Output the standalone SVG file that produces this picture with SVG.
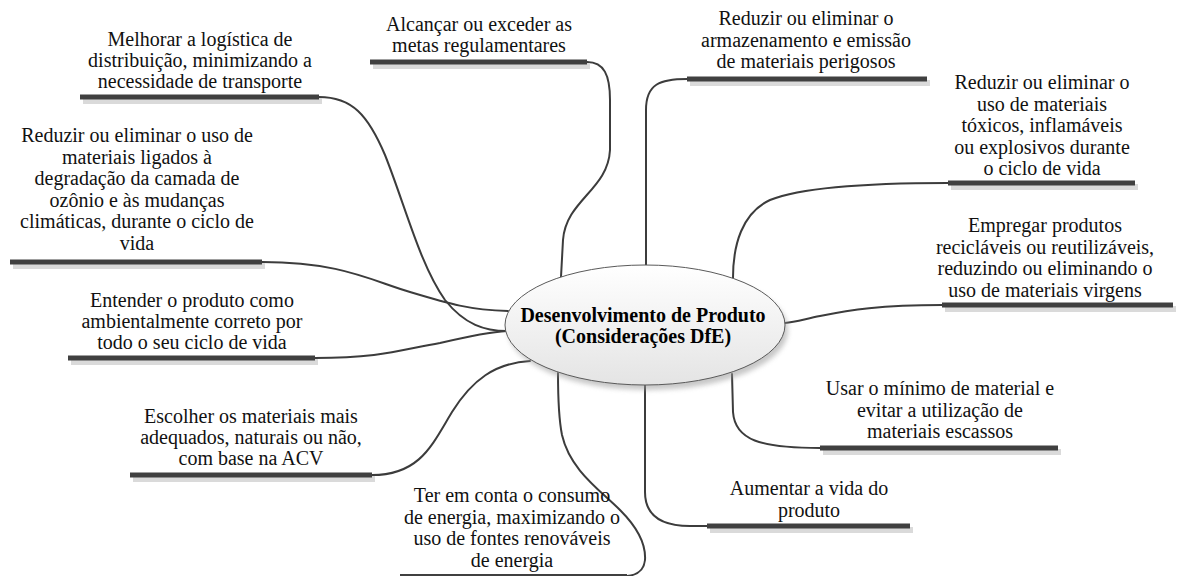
<svg xmlns="http://www.w3.org/2000/svg" width="1177" height="576" viewBox="0 0 1177 576">
  <defs>
    <linearGradient id="hubFill" x1="0" y1="0" x2="0" y2="1">
      <stop offset="0" stop-color="#ffffff"/>
      <stop offset="1" stop-color="#e4e4e4"/>
    </linearGradient>
    <filter id="soft" x="-20%" y="-20%" width="140%" height="160%">
      <feGaussianBlur stdDeviation="2.5"/>
    </filter>
  </defs>
  <style>
    .lbl { font-family: "Liberation Serif", "Times New Roman", serif; font-size: 20px; fill: #111; text-anchor: middle; }
    .hub { font-family: "Liberation Serif", "Times New Roman", serif; font-size: 20px; font-weight: bold; fill: #000; text-anchor: middle; }
    .bar { fill: #404040; }
    .bsh { fill: #dadada; }
    .link { fill: none; stroke: #3c3c3c; stroke-width: 2; stroke-linecap: round; }
  </style>
  <rect width="1177" height="576" fill="#ffffff"/>

  <!-- connectors from the central topic to each branch -->
  <g id="connectors">
    <path class="link" d="M319,97 C352,97 368,115 385,155 C405,205 420,265 445,300 C465,325 485,331 507,331"/>
    <path class="link" d="M587,62 C604,62 610,75 610,100 L610,150 C608,190 566,200 563,240 L561,277"/>
    <path class="link" d="M262,262 C340,262 370,280 410,292 C450,304 470,310 508,311"/>
    <path class="link" d="M315,358 C380,358 400,350 440,343 C470,336 490,332 507,331"/>
    <path class="link" d="M372,475 C420,475 432,445 452,412 C472,380 495,363 530,361"/>
    <path class="link" d="M558,373 C558,400 559,420 562,435 C570,470 600,490 620,510 C638,528 646,545 645,560 C644,570 638,575 627,576"/>
    <path class="link" d="M687,79 C660,79 646,84 646,110 L646,266"/>
    <path class="link" d="M948,183 C860,183 800,188 770,200 C742,213 733,245 733,278"/>
    <path class="link" d="M942,305 C880,305 850,310 820,316 C805,319 795,322 785,323"/>
    <path class="link" d="M732,374 L733,412 C735,440 760,448 820,448"/>
    <path class="link" d="M645,385 L645,492 C645,515 660,526 690,526 L707,526"/>
  </g>

  <!-- central topic -->
  <g id="hub">
    <ellipse cx="648" cy="330" rx="140" ry="60" fill="#9a9a9a" opacity="0.55" filter="url(#soft)"/>
    <ellipse cx="645" cy="325" rx="140" ry="60" fill="url(#hubFill)" stroke="#5a5a5a" stroke-width="1"/>
    <text class="hub" x="643" y="322">Desenvolvimento de Produto</text>
    <text class="hub" x="643" y="343">(Considerações DfE)</text>
  </g>

  <g id="n-logistica">
    <rect class="bsh" x="83" y="98" width="239" height="6"/>
    <rect class="bar" x="80" y="94.5" width="239" height="5"/>
    <text class="lbl" x="200" y="46">Melhorar a logística de</text>
    <text class="lbl" x="200" y="67">distribuição, minimizando a</text>
    <text class="lbl" x="200" y="88">necessidade de transporte</text>
  </g>

  <g id="n-metas">
    <rect class="bsh" x="373" y="63" width="217" height="6"/>
    <rect class="bar" x="370" y="59.5" width="217" height="5"/>
    <text class="lbl" x="479" y="31">Alcançar ou exceder as</text>
    <text class="lbl" x="479" y="52">metas regulamentares</text>
  </g>

  <g id="n-ozonio">
    <rect class="bsh" x="13" y="263" width="252" height="6"/>
    <rect class="bar" x="10" y="259.5" width="252" height="5"/>
    <text class="lbl" x="137" y="142">Reduzir ou eliminar o uso de</text>
    <text class="lbl" x="137" y="163.5">materiais ligados à</text>
    <text class="lbl" x="137" y="185">degradação da camada de</text>
    <text class="lbl" x="137" y="206.5">ozônio e às mudanças</text>
    <text class="lbl" x="137" y="228">climáticas, durante o ciclo de</text>
    <text class="lbl" x="137" y="249.5">vida</text>
  </g>

  <g id="n-ciclo">
    <rect class="bsh" x="71" y="359" width="247" height="6"/>
    <rect class="bar" x="68" y="355.5" width="247" height="5"/>
    <text class="lbl" x="192" y="307">Entender o produto como</text>
    <text class="lbl" x="192" y="328">ambientalmente correto por</text>
    <text class="lbl" x="192" y="349">todo o seu ciclo de vida</text>
  </g>

  <g id="n-acv">
    <rect class="bsh" x="133" y="476" width="242" height="6"/>
    <rect class="bar" x="130" y="472.5" width="242" height="5"/>
    <text class="lbl" x="251" y="423">Escolher os materiais mais</text>
    <text class="lbl" x="251" y="444">adequados, naturais ou não,</text>
    <text class="lbl" x="251" y="465">com base na ACV</text>
  </g>

  <g id="n-energia">
    <rect class="bar" x="400" y="574" width="227" height="5"/>
    <text class="lbl" x="512" y="502">Ter em conta o consumo</text>
    <text class="lbl" x="512" y="523.5">de energia, maximizando o</text>
    <text class="lbl" x="512" y="545">uso de fontes renováveis</text>
    <text class="lbl" x="512" y="566.5">de energia</text>
  </g>

  <g id="n-perigosos">
    <rect class="bsh" x="690" y="80" width="240" height="6"/>
    <rect class="bar" x="687" y="76.5" width="240" height="5"/>
    <text class="lbl" x="806" y="25">Reduzir ou eliminar o</text>
    <text class="lbl" x="806" y="46.5">armazenamento e emissão</text>
    <text class="lbl" x="806" y="68">de materiais perigosos</text>
  </g>

  <g id="n-toxicos">
    <rect class="bsh" x="951" y="184" width="187" height="6"/>
    <rect class="bar" x="948" y="180.5" width="187" height="5"/>
    <text class="lbl" x="1042" y="89">Reduzir ou eliminar o</text>
    <text class="lbl" x="1042" y="110.5">uso de materiais</text>
    <text class="lbl" x="1042" y="132">tóxicos, inflamáveis</text>
    <text class="lbl" x="1042" y="153.5">ou explosivos durante</text>
    <text class="lbl" x="1042" y="175">o ciclo de vida</text>
  </g>

  <g id="n-reciclaveis">
    <rect class="bsh" x="945" y="306" width="231" height="6"/>
    <rect class="bar" x="942" y="302.5" width="231" height="5"/>
    <text class="lbl" x="1045" y="232">Empregar produtos</text>
    <text class="lbl" x="1045" y="253.5">recicláveis ou reutilizáveis,</text>
    <text class="lbl" x="1045" y="275">reduzindo ou eliminando o</text>
    <text class="lbl" x="1045" y="296.5">uso de materiais virgens</text>
  </g>

  <g id="n-escassos">
    <rect class="bsh" x="823" y="449" width="238" height="6"/>
    <rect class="bar" x="820" y="445.5" width="238" height="5"/>
    <text class="lbl" x="940" y="395">Usar o mínimo de material e</text>
    <text class="lbl" x="940" y="416.5">evitar a utilização de</text>
    <text class="lbl" x="940" y="438">materiais escassos</text>
  </g>

  <g id="n-vida">
    <rect class="bsh" x="710" y="527" width="203" height="6"/>
    <rect class="bar" x="707" y="523.5" width="203" height="5"/>
    <text class="lbl" x="809" y="495">Aumentar a vida do</text>
    <text class="lbl" x="809" y="516.5">produto</text>
  </g>
</svg>
